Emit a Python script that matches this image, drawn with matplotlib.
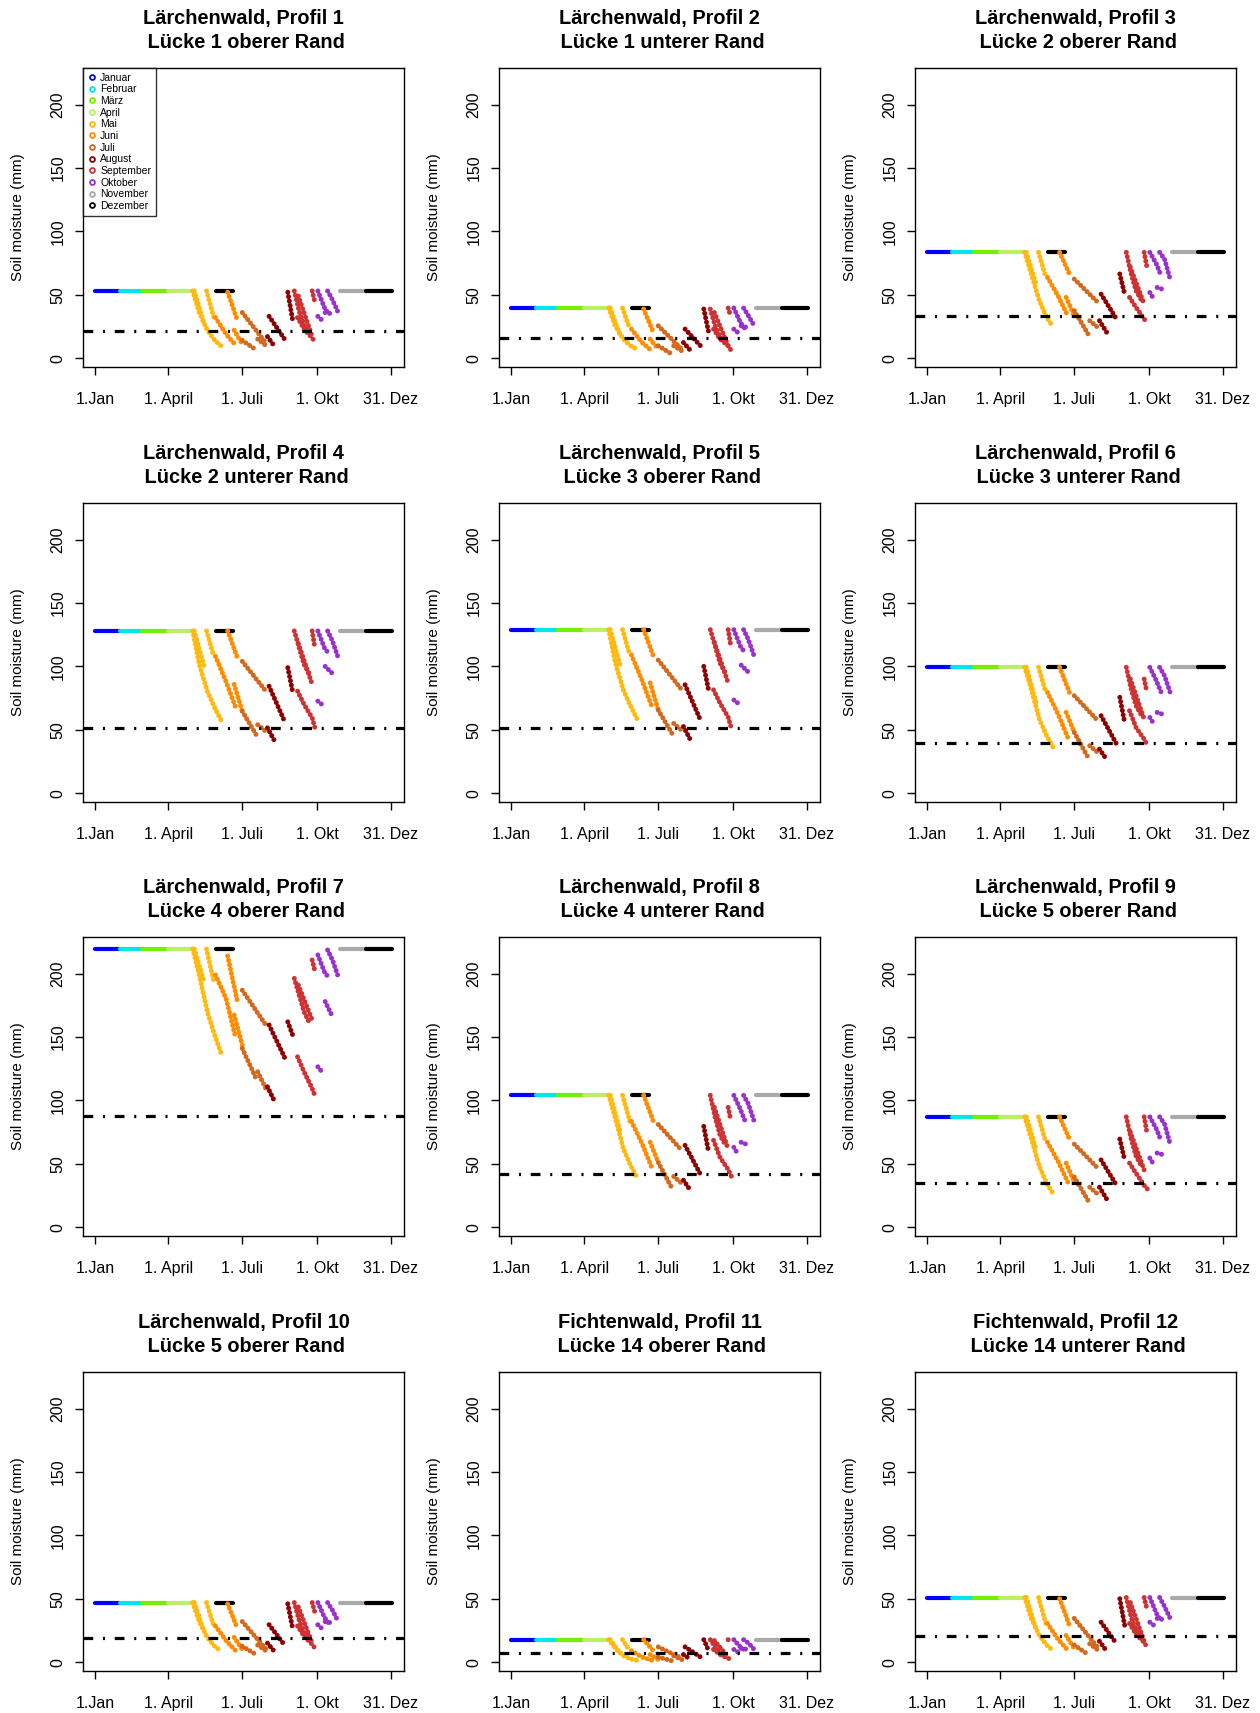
import matplotlib
matplotlib.use("Agg")
import matplotlib.pyplot as plt
from matplotlib.lines import Line2D

plt.rcParams['font.family'] = ['Liberation Sans', 'DejaVu Sans']
plt.rcParams['lines.scale_dashes'] = False

MONTHS = ["Januar", "Februar", "März", "April", "Mai", "Juni", "Juli",
          "August", "September", "Oktober", "November", "Dezember"]
MONTH_COLORS = ["#0000FF", "#00E5EE", "#76EE00", "#BCEE68", "#FFB90F", "#FF8C00",
                "#D2691E", "#8B0000", "#CD3333", "#9932CC", "#A9A9A9", "#000000"]

TICK_DAYS = [1, 91, 182, 274, 365]
TICK_LABELS = ["1.Jan", "1. April", "1. Juli", "1. Okt", "31. Dez"]

TITLES = [
    "Lärchenwald, Profil 1\n Lücke 1 oberer Rand",
    "Lärchenwald, Profil 2\n Lücke 1 unterer Rand",
    "Lärchenwald, Profil 3\n Lücke 2 oberer Rand",
    "Lärchenwald, Profil 4\n Lücke 2 unterer Rand",
    "Lärchenwald, Profil 5\n Lücke 3 oberer Rand",
    "Lärchenwald, Profil 6\n Lücke 3 unterer Rand",
    "Lärchenwald, Profil 7\n Lücke 4 oberer Rand",
    "Lärchenwald, Profil 8\n Lücke 4 unterer Rand",
    "Lärchenwald, Profil 9\n Lücke 5 oberer Rand",
    "Lärchenwald, Profil 10\n Lücke 5 oberer Rand",
    "Fichtenwald, Profil 11\n Lücke 14 oberer Rand",
    "Fichtenwald, Profil 12\n Lücke 14 unterer Rand",
]

# field capacity (flat level) and the dash-dot threshold per profile, mm
CAPACITY = [53, 39.5, 83.5, 128, 129, 99.3, 219.5, 104, 87, 47, 17.7, 51]
THRESHOLD = [21.2, 15.8, 33.4, 51.2, 51.6, 39.7, 87.8, 41.6, 34.8, 18.8, 7.1, 20.4]

# stretches where the soil sits at capacity: (first day, last day), month colour
FLAT_DAYS = [(1, 31), (31, 59), (59, 90), (90, 121), (150, 170), (302, 334), (334, 366)]
FLAT_MONTH = [0, 1, 2, 3, 11, 10, 11]

# drying strands: day of each vertex and the month colour used
STRAND_DAYS = [
    [121, 129, 139, 148, 156],
    [123, 135],
    [138, 147],
    [149, 162, 174],
    [164, 176],
    [182, 211],
    [215, 234],
    [172, 182],
    [182, 199],
    [201, 211],
    [213, 222],
    [238, 244],
    [246, 252, 258, 265],
    [251, 268],
    [250, 258, 268, 272],
    [268, 271],
    [275, 283, 289],
    [287, 293, 300],
    [275, 280],
    [284, 292],
]
STRAND_MONTH = [4, 4, 4, 5, 5, 6, 7, 5, 6, 6, 7, 7, 8, 8, 8, 8, 9, 9, 9, 9]

# soil moisture at the strand vertices, one list per profile
P1 = [[53, 36, 22, 14, 9.5], [53, 27], [53, 32], [32, 19, 10], [52, 30], [36, 12],
      [33, 15], [22, 11], [14, 6.5], [15, 10], [17, 9], [52, 30], [53, 37, 26, 20],
      [49, 17], [32, 23, 16, 12], [53, 45], [53, 40, 34], [53, 46, 36], [33, 30], [36, 35]]
P2 = [[39.5, 25.5, 15, 9.7, 7], [39.5, 17.6], [39.5, 22.9], [22.9, 12.3, 5.7], [38.7, 20.2],
      [25.5, 7], [22.9, 9.7], [15, 7], [9.7, 3.1], [9.7, 5.7], [12.3, 5.7], [38.7, 20.2],
      [38.7, 25.5, 16.3, 12.3], [36, 9.7], [22.9, 15, 9.7, 5.7], [39.5, 33.4],
      [39.5, 28.1, 22.9], [39.5, 33.4, 25.5], [22.9, 20.2], [25.5, 24]]
P3 = [[83.5, 66.4, 45.3, 32.1, 24.7], [83.5, 58.4], [83.5, 63.7], [63.7, 49.2, 33.4],
      [83.5, 66.4], [62.4, 44], [50.5, 30.8], [47.9, 33.4], [37.4, 19], [29.5, 24.2],
      [29.5, 20.2], [66.4, 50.5], [83.5, 66.4, 53.2, 45.3], [71.6, 42.6],
      [47.9, 40, 30.8, 28.1], [83.5, 73], [83.5, 74.3, 65], [83.5, 78.2, 62.4],
      [51.8, 46.6], [55.8, 54]]
P4 = [[128, 101.6, 80.5, 67.3, 57.3], [128, 100], [128, 108], [108, 88, 67.3],
      [128, 106.9], [104, 80.5], [84.4, 56.7], [85.8, 64.6], [64.6, 46.2], [54, 48.8],
      [51.5, 40.9], [99, 80], [128, 114.8, 101.6, 93.7], [118, 86],
      [80.5, 70, 59.4, 50.1], [128, 116], [128, 114.8, 109.5], [128, 120, 106.9],
      [72.6, 70], [100, 95]]
P5 = [[129, 103, 81.5, 68.5, 58.5], [129, 101], [129, 109], [109, 89, 68.5],
      [129, 108], [105, 81.5], [85.5, 57.5], [87, 65.5], [65.5, 47], [55, 49.5],
      [52.5, 41.5], [100, 81], [129, 116, 102.5, 94.5], [119, 87], [81.5, 71, 60, 51],
      [129, 117], [129, 116, 110.5], [129, 121, 108], [73.5, 71], [101, 96]]
P6 = [[99.3, 82.2, 58.4, 45.3, 36], [99.3, 71.6], [99.3, 79.5], [79.5, 62.4, 44],
      [99.3, 79.5], [76.9, 57.1], [61.1, 38.7], [63.7, 47.9], [47.9, 28.1], [37.4, 32.1],
      [34.7, 26.3], [75.6, 55.8], [99.3, 82.2, 69, 61.1], [90.1, 58.4],
      [65, 51.8, 42.6, 37.4], [90, 80.8], [99.3, 88.7, 79.5], [99.3, 92.7, 79.5],
      [59.7, 54.5], [63.7, 62]]
P7 = [[219.5, 199, 170, 151.6, 137], [219.5, 193.7], [219.5, 193.7], [199, 180.5, 149],
      [214, 178], [187, 159.5], [159.5, 134], [167.4, 143.6], [141, 117.3], [122.6, 109.4],
      [110.7, 98.9], [162, 151.6], [196.3, 183.2, 170, 160.8], [191, 163.4],
      [134.4, 122.6, 109.4, 102.8], [210.8, 203], [214.8, 201.6, 196.3],
      [218.7, 210.8, 197.7], [126.5, 122.6], [178, 167.4]]
P8 = [[104, 86.5, 62, 48.5, 39], [104, 75.5], [104, 83.5], [83.5, 66, 47], [104, 83.5],
      [81, 60.5], [64.5, 41.5], [67, 51], [51, 30.5], [40, 34.5], [37, 28.5], [79.5, 59],
      [104, 86.5, 72.5, 64.5], [94.5, 61.5], [68.5, 55, 45.5, 40], [94.5, 85],
      [104, 93, 83.5], [104, 97, 83.5], [63, 57.5], [67, 65]]
P9 = [[87, 70, 48, 34.5, 26.5], [87, 61.5], [87, 67], [67, 52, 35.5], [87, 69.5],
      [65.5, 46.5], [53, 33], [50.5, 35.5], [39.5, 21], [31.5, 26], [31.5, 22], [69.5, 53],
      [87, 69.5, 56, 48], [75, 45], [50.5, 42.5, 33, 30], [87, 76], [87, 77.5, 68],
      [87, 81.5, 65.5], [54.5, 49], [58.5, 57]]
P10 = [[47, 32, 19.5, 12.5, 8.5], [47, 24], [47, 28.5], [28.5, 17, 9], [46, 26.5],
       [32, 10.5], [29.5, 13.5], [19.5, 10], [12.5, 6], [13.5, 9], [15, 8], [46, 26.5],
       [47, 33, 23, 18], [43.5, 15], [28.5, 20.5, 14, 10.5], [47, 40], [47, 35.5, 30],
       [47, 41, 32], [29.5, 26.5], [32, 31]]
P11 = [[17.7, 11, 5, 2.5, 1.5], [17.7, 7], [17.7, 9], [9, 4, 1.5], [17.7, 9], [12, 3],
       [12, 4], [6, 2], [4, 1], [5, 2], [6, 2], [17.7, 9], [17.7, 12, 7, 4], [17, 4],
       [10, 6, 3, 2], [17.7, 15], [17.7, 12, 9], [17.7, 15, 10], [10, 8], [11, 10]]
P12 = [[51, 34.5, 21, 13.5, 9], [51, 26], [51, 30.5], [30.5, 18, 9.5], [50, 29],
       [34.5, 11.5], [31.5, 14.5], [21, 10.5], [13.5, 6], [14.5, 9.5], [16.5, 8.5],
       [50, 29], [51, 35.5, 25, 19], [47, 16.5], [30.5, 22, 15.5, 11.5], [51, 43],
       [51, 38.5, 32.5], [51, 44, 34.5], [31.5, 29], [34.5, 33.5]]
PROFILES = [P1, P2, P3, P4, P5, P6, P7, P8, P9, P10, P11, P12]

W, H = 1260, 1713
fig = plt.figure(figsize=(W / 100, H / 100), dpi=100)

col_left = [83, 499, 915]
row_top = [68, 503, 937, 1372]
ax_w, ax_h = 321, 299

for i in range(12):
    r, c = divmod(i, 3)
    ax = fig.add_axes([col_left[c] / W, 1 - (row_top[r] + ax_h) / H, ax_w / W, ax_h / H])
    cap = CAPACITY[i]

    for (d0, d1), m in zip(FLAT_DAYS, FLAT_MONTH):
        ax.plot([d0, d1], [cap, cap], color=MONTH_COLORS[m], lw=3,
                solid_capstyle='round')

    # beaded look of the daily points
    for days, vals, m in zip(STRAND_DAYS, PROFILES[i], STRAND_MONTH):
        ax.plot(days, vals, color=MONTH_COLORS[m], lw=3.6,
                linestyle=(0, (0.01, 3.2)), dash_capstyle='round',
                solid_joinstyle='round')

    ax.axhline(THRESHOLD[i], color='black', lw=2.3,
               linestyle=(0, (7, 7, 1.5, 7)))

    ax.set_xlim(-14, 381)
    ax.set_ylim(-7, 229)
    ax.set_xticks(TICK_DAYS)
    ax.set_xticklabels(TICK_LABELS)
    ax.set_yticks([0, 50, 100, 150, 200])
    ax.set_yticklabels(["0", "50", "100", "150", "200"], rotation=90, va='center')
    ax.tick_params(axis='both', direction='out', length=5.5, width=1,
                   labelsize=11.5)
    ax.tick_params(axis='x', pad=12.5)
    ax.tick_params(axis='y', pad=7)
    for s in ax.spines.values():
        s.set_linewidth(1)
    ax.set_ylabel("Soil moisture (mm)", fontsize=11)
    ax.yaxis.set_label_coords(-0.18, 0.5)
    ax.set_title(TITLES[i], fontsize=14.4, fontweight='bold', pad=14.5, linespacing=1.3)

    if i == 0:
        handles = [Line2D([], [], marker='o', ls='none', markerfacecolor='none',
                          markeredgecolor=col, markeredgewidth=1.3, markersize=3.5)
                   for col in MONTH_COLORS]
        leg = ax.legend(handles, MONTHS, loc='upper left', fontsize=7.5,
                        frameon=True, fancybox=False, borderaxespad=0,
                        handlelength=0.8, handletextpad=0.4, labelspacing=0.16,
                        borderpad=0.45)
        leg.get_frame().set_edgecolor('black')
        leg.get_frame().set_linewidth(1)

fig.savefig("out.png", dpi=100)
